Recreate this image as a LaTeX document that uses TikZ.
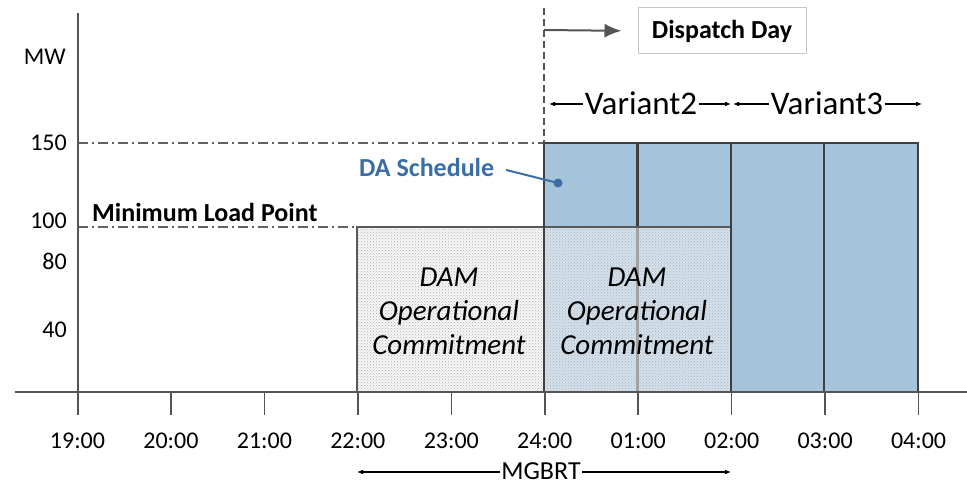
\documentclass[tikz,border=0pt]{standalone}
\usepackage{fontspec}
\setmainfont{Carlito}
\usetikzlibrary{patterns,arrows.meta}
\definecolor{bluefill}{HTML}{A6C3DC}
\definecolor{bluetext}{HTML}{3A6EA5}
\definecolor{edgecol}{HTML}{3F3F3F}
\definecolor{axisgray}{HTML}{555555}
\begin{document}
\begin{tikzpicture}[x=1pt,y=-1pt,
  lbl/.style={font=\fontsize{24}{28}\selectfont, inner sep=0pt},
  boldlbl/.style={font=\fontsize{26}{30}\selectfont\bfseries, inner sep=0pt},
  varlbl/.style={font=\fontsize{33}{36}\selectfont, inner sep=1.5pt},
  damlbl/.style={font=\fontsize{29}{34}\selectfont\itshape, align=center, inner sep=0pt},
  dimarrow/.style={line width=1.2pt, -{Latex[length=6pt,width=5pt]}},
  dashdot/.style={gray!75!black, line width=1.3pt, dash pattern=on 10pt off 4pt on 2pt off 4pt},
  boxedge/.style={edgecol, line width=2.6pt},
  hatchedge/.style={gray!70!black, line width=1.6pt}
]
\useasboundingbox (0,0) rectangle (967,486);

% reference lines
\draw[dashdot] (78,143) -- (544,143);
\draw[dashdot] (78,227) -- (357,227);

% blue DA schedule blocks
\fill[bluefill] (544,143) rectangle (918,392);
\draw[boxedge] (637.5,143) -- (637.5,392);

% hatched DAM operational commitment
\fill[gray!7] (357,227) rectangle (544,392);
\fill[white, opacity=0.5] (544,227) rectangle (731,392);
\fill[pattern=crosshatch dots, pattern color=gray!60] (357,227) rectangle (731,392);
\draw[hatchedge] (357,392) -- (357,227) -- (731,227);

% blue block outlines
\draw[boxedge] (544,392) -- (544,143) -- (918,143) -- (918,392);
\draw[boxedge] (731,143) -- (731,392);
\draw[boxedge] (824,143) -- (824,392);

% axes
\draw[axisgray, line width=2pt] (15,392) -- (967,392);
\draw[axisgray, line width=2pt] (77.5,13) -- (77.5,415);
\foreach \i/\t in {0/19:00,1/20:00,2/21:00,3/22:00,4/23:00,5/24:00,6/01:00,7/02:00,8/03:00,9/04:00}{
  \pgfmathsetmacro{\xx}{77.5+93.45*\i}
  \draw[axisgray, line width=1.5pt] (\xx,392) -- (\xx,415);
  \node[lbl] (t\i) at (\xx,441) {\t};
}

% y labels
\node[lbl, anchor=east] (mw) at (66,57) {MW};
\node[lbl, anchor=east] (y150) at (67,143) {150};
\node[lbl, anchor=east] (y100) at (67,221) {100};
\node[lbl, anchor=east] (y80) at (67,261) {80};
\node[lbl, anchor=east] (y40) at (67,330) {40};

\node[boldlbl, anchor=west] (mlp) at (92,212) {Minimum Load Point};

% DAM labels
\node[damlbl] (dam1) at (449,311) {DAM\\Operational\\Commitment};
\node[damlbl] (dam2) at (637,311) {DAM\\Operational\\Commitment};

% DA schedule callout
\node[boldlbl, text=bluetext, anchor=west] (das) at (359,167) {DA Schedule};
\node[circle, fill=bluetext, minimum size=9pt, inner sep=0pt] (dot) at (558,183) {};
\draw[bluetext, line width=2pt, shorten <=12pt] (das.east) -- (dot.center);

% dispatch day
\coordinate (dstart) at (544,30);
\draw[axisgray, line width=1.6pt, dash pattern=on 7pt off 4pt] (544,8) -- (544,143);
\node[draw=gray!45, line width=1pt, minimum width=168pt, minimum height=46pt, inner sep=0pt,
      boldlbl] (dd) at (722,31) {Dispatch Day};
\draw[axisgray, line width=2pt, -{Latex[length=17pt,width=14pt]}, shorten >=16pt] (dstart) -- (dd.west);

% variants
\node[varlbl] (v2) at (641,103) {Variant2};
\coordinate (v2l) at (549,104);
\coordinate (v2r) at (731,104);
\draw[dimarrow] (v2.west |- v2l) -- (v2l);
\draw[dimarrow] (v2.east |- v2r) -- (v2r);
\node[varlbl] (v3) at (827,103) {Variant3};
\coordinate (v3l) at (733,104);
\coordinate (v3r) at (922,104);
\draw[dimarrow] (v3.west |- v3l) -- (v3l);
\draw[dimarrow] (v3.east |- v3r) -- (v3r);

% MGBRT
\node[lbl, font=\fontsize{26}{30}\selectfont, inner sep=1.5pt] (mg) at (541,471) {MGBRT};
\coordinate (mgl) at (357,472);
\coordinate (mgr) at (731,472);
\draw[dimarrow] (mg.west |- mgl) -- (mgl);
\draw[dimarrow] (mg.east |- mgr) -- (mgr);
\end{tikzpicture}
\end{document}
